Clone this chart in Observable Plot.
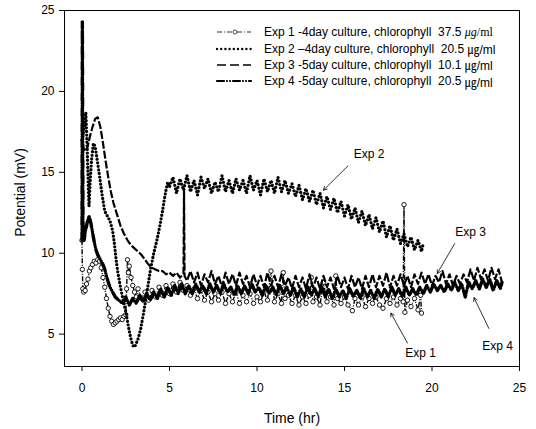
<!DOCTYPE html>
<html><head><meta charset="utf-8">
<script src="https://cdn.jsdelivr.net/npm/d3@7"></script>
<script src="https://cdn.jsdelivr.net/npm/@observablehq/plot@0.6"></script>
<style>
body{margin:0;background:#fff;}
#wrap{position:relative;width:536px;height:429px;font-family:"Liberation Sans",Arial,sans-serif;}
#legend{position:absolute;left:216px;top:24px;}
.row{display:flex;align-items:center;height:16.4px;white-space:pre;font-size:12px;color:#000;}
.row svg{margin-right:12px;flex:none;}
.u1{font-family:"Liberation Serif","Times New Roman",serif;}
.u2{font-family:"Liberation Sans","Noto Sans CJK KR",sans-serif;}
</style></head><body><div id="wrap"><div id="legend"></div></div>
<script>
// ---- data ----
const xTicks = [0, 5, 10, 15, 20, 25];
const yTicks = [5, 10, 15, 20, 25];

// Exp 1 : 4-day culture, chlorophyll 37.5 ug/ml  (t [hr], potential [mV])
const exp1 = [
[0,10.8],[0.02,9.0],[0.05,7.8],[0.1,7.6],[0.18,7.7],[0.26,8.1],[0.34,8.4],[0.42,8.9],[0.5,9.1],[0.6,9.3],[0.7,9.5],[0.8,9.4],[0.9,9.6],[1.0,9.5],[1.1,9.1],[1.2,8.5],[1.3,7.9],[1.4,7.2],[1.5,6.6],[1.6,6.1],[1.7,5.8],[1.8,5.6],[1.9,5.7],[2.0,5.8],[2.1,5.9],[2.2,6.0],[2.3,5.9],[2.4,6.1],[2.5,6.2],[2.55,7.8],[2.6,9.6],[2.65,8.8],[2.7,9.2],[2.8,8.5],[2.9,8.0],[3.0,7.6],[3.1,7.3],
[3.2,7.8],[3.4,7.2],[3.6,7.6],[3.8,7.1],[4.0,7.7],[4.2,7.3],[4.4,7.9],[4.6,7.4],[4.8,8.0],[5.0,7.5],[5.2,8.1],[5.4,7.6],[5.6,8.2],[5.8,7.7],[6.0,8.0],[6.2,7.4],[6.4,7.8],[6.6,7.2],[6.8,7.7],[7.0,7.1],[7.2,7.6],[7.4,7.0],[7.6,7.5],[7.8,7.1],[8.0,7.6],[8.2,6.9],[8.4,7.5],[8.6,7.0],[8.8,7.6],[9.0,6.9],[9.2,7.4],[9.4,7.0],[9.6,7.5],[9.8,6.9],[10.0,7.3],[10.2,7.0],[10.4,7.6],[10.6,7.1],[10.8,8.9],[11.0,7.0],[11.2,7.5],[11.4,6.9],[11.5,8.8],[11.6,7.2],[11.8,7.4],[12.0,6.9],[12.2,7.4],[12.4,6.8],[12.6,7.3],[12.8,6.9],[13.0,7.4],[13.1,8.5],[13.2,7.0],[13.4,7.3],[13.6,6.8],[13.8,8.2],[14.0,7.0],[14.2,7.3],[14.4,6.8],[14.5,8.6],[14.6,7.2],[14.8,6.9],[15.0,7.3],[15.2,6.8],[15.45,6.45],[15.6,7.2],[15.8,6.8],[16.0,7.3],[16.2,6.7],[16.4,7.2],[16.6,6.9],[16.8,7.3],[17.0,6.8],[17.2,6.6],[17.4,7.2],[17.6,6.9],[17.8,7.3],[18.0,6.8],[18.2,7.2],[18.35,7.0],[18.4,13.0],[18.45,6.35],[18.6,7.1],[18.8,6.7],[19.0,7.2],[19.2,6.5],[19.35,7.4],[19.4,6.3]
];

// Exp 2 : 4-day culture, chlorophyll 20.5 ug/ml
const exp2 = [
[0,17.0],[0.1,17.6],[0.22,18.7],[0.3,16.4],[0.36,14.2],[0.4,12.9],[0.46,14.3],[0.55,15.8],[0.65,16.8],[0.75,16.6],[0.85,15.9],[1.0,14.8],[1.15,13.6],[1.3,12.6],[1.45,12.3],[1.6,12.0],[1.75,11.4],[1.85,10.6],[1.95,9.6],[2.05,8.8],[2.2,7.9],[2.35,7.1],[2.5,6.4],[2.6,5.8],[2.7,5.2],[2.8,4.7],[2.88,4.4],[2.95,4.2],[3.05,4.3],[3.2,4.7],[3.35,5.3],[3.5,6.2],[3.64,7.1],[3.8,8.2],[3.93,9.1],[4.1,10.0],[4.3,10.9],[4.45,11.7],[4.6,12.6],[4.7,13.3],[4.8,13.9],[4.9,14.4],
[5.0,14.1],[5.2,14.7],[5.4,13.7],[5.6,14.6],[5.8,13.9],[6.0,14.8],[6.2,13.8],[6.4,14.5],[6.6,13.6],[6.8,14.7],[7.0,14.0],[7.2,14.6],[7.4,13.7],[7.6,14.4],[7.8,13.8],[8.0,14.8],[8.2,13.8],[8.4,14.5],[8.6,13.7],[8.8,14.6],[9.0,13.9],[9.2,14.5],[9.4,13.7],[9.6,14.8],[9.8,13.9],[10.0,14.5],[10.2,13.6],[10.4,14.6],[10.6,13.8],[10.8,14.5],[11.0,13.7],[11.2,14.7],[11.4,13.8],[11.6,14.5],[11.8,13.7],[12.0,14.3],
[12.2,13.5],[12.4,14.2],[12.6,13.3],[12.8,14.0],[13.0,13.2],[13.2,13.9],[13.4,13.0],[13.6,13.7],[13.8,12.8],[14.0,13.5],[14.2,12.7],[14.4,13.4],[14.6,12.5],[14.8,13.2],[15.0,12.3],[15.2,13.0],[15.4,12.1],[15.6,12.8],[15.8,11.9],[16.0,12.6],[16.2,11.7],[16.4,12.4],[16.6,11.5],[16.8,12.2],[17.0,11.3],[17.2,12.0],[17.4,11.0],[17.6,11.7],[17.8,10.8],[18.0,11.5],[18.2,10.6],[18.4,11.2],[18.6,10.4],[18.8,11.0],[19.0,10.2],[19.2,10.8],[19.4,10.1],[19.5,10.6]
];

// Exp 3 : 5-day culture, chlorophyll 10.1 ug/ml
const exp3 = [
[0,16.8],[0.15,16.3],[0.3,16.5],[0.45,17.2],[0.6,17.8],[0.75,18.3],[0.9,18.4],[1.05,17.8],[1.2,16.8],[1.35,15.7],[1.5,14.7],[1.65,13.8],[1.8,13.1],[2.0,12.4],[2.2,11.7],[2.4,11.2],[2.6,10.8],[2.8,10.5],[3.0,10.3],[3.2,10.1],[3.4,9.9],[3.6,9.6],[3.8,9.3],[4.0,9.1],[4.2,9.0],[4.4,8.9],[4.6,8.9],[4.8,8.7],[5.0,8.8],[5.2,8.6],[5.4,8.8],[5.6,8.5],[5.8,8.7],[5.83,14.0],[5.86,8.6],
[6.0,8.3],[6.2,8.9],[6.4,8.2],[6.6,8.8],[6.8,8.0],[7.0,8.7],[7.2,8.2],[7.4,8.9],[7.6,8.1],[7.8,8.6],[8.0,7.9],[8.2,8.8],[8.4,8.1],[8.6,8.7],[8.8,8.0],[9.0,8.8],[9.2,8.1],[9.4,8.6],[9.6,7.9],[9.8,8.7],[10.0,8.0],[10.2,8.6],[10.4,7.9],[10.6,8.8],[10.8,8.0],[11.0,8.6],[11.2,7.9],[11.4,8.7],[11.6,8.0],[11.8,8.5],[12.0,7.8],[12.2,8.6],[12.4,7.9],[12.6,8.5],[12.8,7.8],[13.0,8.7],[13.2,7.9],[13.4,8.5],[13.6,7.8],[13.8,8.6],[14.0,7.9],[14.2,8.5],[14.4,7.8],[14.6,8.6],[14.8,7.9],[15.0,8.5],[15.2,7.8],[15.4,8.6],[15.6,7.9],[15.8,8.5],[16.0,7.8],[16.2,8.6],[16.4,7.9],[16.6,8.7],[16.8,7.9],[17.0,8.6],[17.2,8.0],[17.4,8.8],[17.6,7.9],[17.8,8.6],[18.0,8.0],[18.2,8.7],[18.4,8.0],[18.6,8.6],[18.8,7.9],[19.0,8.7],[19.2,8.1],[19.4,8.8],[19.6,8.1],[19.8,8.7],[20.0,8.0],[20.2,8.6],[20.4,8.2],[20.6,8.9],[20.8,8.1],[21.0,8.7],[21.2,8.0],[21.4,8.6],[21.6,8.1],[21.8,8.7],[22.0,8.2],[22.2,9.0],[22.4,8.3],[22.6,9.1],[22.8,8.4],[23.0,9.0],[23.2,8.3],[23.4,9.1],[23.6,8.4],[23.8,9.0],[24.0,8.2]
];

// Exp 4 : 5-day culture, chlorophyll 20.5 ug/ml
const exp4 = [
[0,10.8],[0.02,24.3],[0.04,17.5],[0.06,11.0],[0.12,10.8],[0.2,11.4],[0.3,11.9],[0.4,12.3],[0.5,11.9],[0.6,11.3],[0.7,10.7],[0.8,10.2],[0.9,9.9],[1.0,9.7],[1.1,9.5],[1.2,9.3],[1.3,9.0],[1.4,8.6],[1.5,8.2],[1.6,7.9],[1.7,7.7],[1.8,7.5],[1.9,7.3],[2.0,7.2],[2.1,7.1],[2.2,7.0],[2.3,6.9],[2.4,7.0],
[2.5,7.3],[2.7,6.8],[2.9,7.2],[3.1,6.9],[3.3,7.4],[3.5,7.0],[3.7,7.5],[3.9,7.1],[4.1,7.6],[4.3,7.2],[4.5,7.8],[4.7,7.3],[4.9,7.9],[5.1,7.4],[5.3,8.0],[5.5,7.5],[5.7,8.1],[5.9,7.5],[6.1,8.0],[6.3,7.5],[6.5,8.1],[6.7,7.6],[6.9,8.0],[7.1,7.5],[7.3,8.1],[7.5,7.6],[7.7,8.0],[7.9,7.5],[8.1,8.1],[8.3,7.6],[8.5,7.9],[8.7,7.4],[8.9,8.0],[9.1,7.5],[9.3,8.0],[9.5,7.5],[9.7,8.1],[9.9,7.6],[10.1,7.9],[10.3,7.4],[10.5,8.0],[10.7,7.5],[10.9,7.9],[11.1,7.4],[11.3,8.0],[11.5,7.5],[11.7,7.9],[11.9,7.4],[12.1,7.9],[12.3,7.3],[12.5,7.8],[12.7,7.3],[12.9,7.9],[13.1,7.4],[13.3,7.8],[13.5,7.3],[13.7,7.9],[13.9,7.3],[14.1,7.8],[14.3,7.2],[14.5,7.8],[14.7,7.3],[14.9,7.7],[15.1,7.2],[15.3,7.8],[15.5,7.3],[15.7,7.7],[15.9,7.2],[16.1,7.8],[16.3,7.3],[16.5,7.7],[16.7,7.2],[16.9,7.8],[17.1,7.3],[17.3,7.8],[17.5,7.3],[17.7,7.9],[17.9,7.4],[18.1,7.8],[18.3,7.3],[18.5,7.9],[18.7,7.4],[18.9,7.8],[19.1,7.4],[19.3,7.9],[19.5,7.5],[19.7,8.0],[19.9,7.6],[20.1,8.1],[20.3,7.7],[20.5,8.0],[20.7,7.6],[20.9,8.1],[21.1,7.7],[21.3,8.2],[21.5,7.7],[21.7,8.1],[21.9,7.3],[22.1,8.2],[22.3,7.8],[22.5,8.3],[22.7,7.8],[22.9,8.4],[23.1,7.9],[23.3,8.4],[23.5,7.7],[23.7,8.3],[23.9,7.8],[24.0,8.2]
];

// annotation labels and the arrows pointing at the curves (data units)
const annLabels = ["Exp 2", "Exp 3", "Exp 1", "Exp 4"];
const annText   = [[16.4, 16.15], [22.2, 11.3], [19.35, 3.8], [23.75, 4.25]];
const annFrom   = [[15.2, 15.4], [21.3, 10.6], [18.6, 4.45], [23.25, 5.35]];
const annTo     = [[13.8, 13.9], [20.3, 8.75], [17.65, 6.3], [22.4, 7.25]];

// legend
const legendText  = ["Exp 1 -4day culture, chlorophyll  37.5 ", "Exp 2 \u20134day culture, chlorophyll  20.5 ", "Exp 3 -5day culture, chlorophyll  10.1 ", "Exp 4 -5day culture, chlorophyll  20.5 "];
const legendUnits = ["<i>\u03bcg</i>/ml", "\u338d/ml", "\u338d/ml", "\u338d/ml"];

// ---- styles ----
const styles = [
  {strokeWidth: 1.4, dash: "5,1.5,1,1.5", cap: "butt"},
  {strokeWidth: 3.3, dash: "0,3.6", cap: "round"},
  {strokeWidth: 2.2, dash: "8,2", cap: "butt"},
  {strokeWidth: 3.4, dash: "8,2.5,0,2.5,0,2.5", cap: "round"}
];
const legendStyles = [
  {strokeWidth: 0.8, dash: "5,2,1,2", cap: "butt"},
  {strokeWidth: 2.4, dash: "0,4.2", cap: "round"},
  {strokeWidth: 1.3, dash: "9,4", cap: "butt"},
  {strokeWidth: 2.2, dash: "7,3,0,3,0,3", cap: "round"}
];

const ann = annLabels.map((label, i) => ({label, tx: annText[i][0], ty: annText[i][1], x1: annFrom[i][0], y1: annFrom[i][1], x2: annTo[i][0], y2: annTo[i][1]}));
const X = d => d[0], Y = d => d[1];
const lineOf = (data, s) => Plot.line(data, {x: X, y: Y, stroke: "black", strokeWidth: s.strokeWidth, strokeDasharray: s.dash, strokeLinecap: s.cap, strokeLinejoin: "round"});

const chart = Plot.plot({
  width: 536, height: 429,
  marginLeft: 64, marginRight: 17, marginTop: 10, marginBottom: 63,
  style: {fontFamily: '"Liberation Sans", Arial, sans-serif', fontSize: "12px", color: "black", background: "white", overflow: "visible"},
  x: {domain: [-1, 25], ticks: xTicks, tickSize: 5, tickPadding: 12, label: null},
  y: {domain: [3, 25], ticks: yTicks, tickSize: 5, tickPadding: 5, label: null},
  marks: [
    lineOf(exp1, styles[0]),
    Plot.dot(exp1, {x: X, y: Y, r: 2.2, stroke: "black", strokeWidth: 0.9, fill: "white"}),
    lineOf(exp3, styles[2]),
    lineOf(exp4, styles[3]),
    lineOf(exp2, styles[1]),
    Plot.frame({stroke: "black", strokeWidth: 1}),
    Plot.arrow(ann, {x1: "x1", y1: "y1", x2: "x2", y2: "y2", stroke: "black", strokeWidth: 0.8, headLength: 7}),
    Plot.text(ann, {x: "tx", y: "ty", text: "label", fontSize: 12, fill: "black"}),
    Plot.text(["Time (hr)"], {frameAnchor: "bottom", dy: 52, lineAnchor: "middle", fontSize: 14, fill: "black"}),
    Plot.text(["Potential (mV)"], {frameAnchor: "left", dx: -44, dy: 4, rotate: -90, textAnchor: "middle", lineAnchor: "middle", fontSize: 14, fill: "black"})
  ]
});
const wrap = document.getElementById("wrap");
wrap.insertBefore(chart, wrap.firstChild);

// legend overlay (inside the plot frame, top right)
const leg = document.getElementById("legend");
legendText.forEach((t, i) => {
  const s = legendStyles[i];
  const row = document.createElement("div");
  row.className = "row";
  const circle = i === 0 ? `<circle cx="19" cy="5" r="2" fill="white" stroke="black" stroke-width="0.7"/>` : "";
  row.innerHTML = `<svg width="36" height="10"><line x1="1" y1="5" x2="35" y2="5" stroke="black" stroke-width="${s.strokeWidth}" stroke-dasharray="${s.dash}" stroke-linecap="${s.cap}"/>${circle}</svg><span>${t}</span><span class="${i === 0 ? "u1" : "u2"}">${legendUnits[i]}</span>`;
  leg.appendChild(row);
});
</script></body></html>
